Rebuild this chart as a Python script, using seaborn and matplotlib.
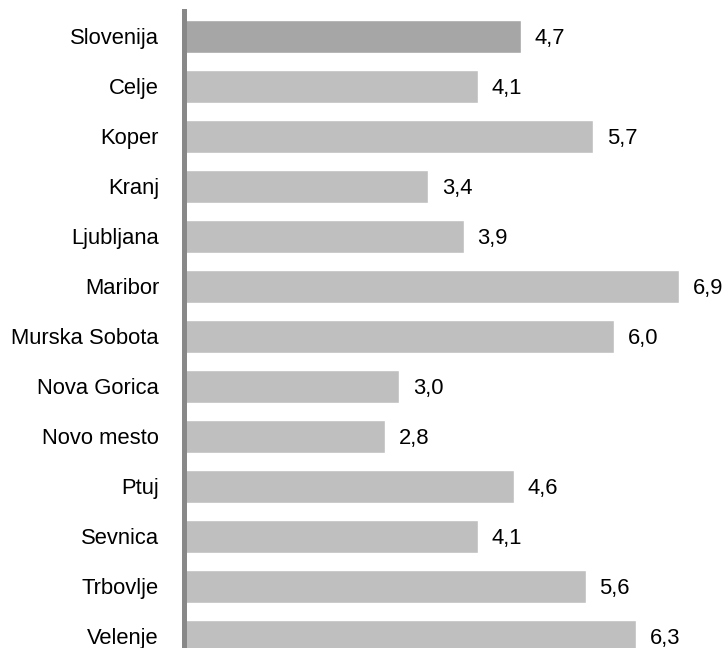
import matplotlib
matplotlib.use("Agg")
import matplotlib.pyplot as plt
import seaborn as sns

# podatki
kraji = ["Slovenija", "Celje", "Koper", "Kranj", "Ljubljana", "Maribor",
         "Murska Sobota", "Nova Gorica", "Novo mesto", "Ptuj", "Sevnica",
         "Trbovlje", "Velenje"]
vrednosti = [4.7, 4.1, 5.7, 3.4, 3.9, 6.9, 6.0, 3.0, 2.8, 4.6, 4.1, 5.6, 6.3]
barve = ["#a6a6a6"] + ["#bfbfbf"] * (len(kraji) - 1)

sns.set_style("white")
plt.rcParams["font.family"] = ["Liberation Sans", "DejaVu Sans"]

fig = plt.figure(figsize=(7.27, 6.48), dpi=100)
ax = fig.add_axes([184 / 727, 0, (727 - 184) / 727, 637 / 648])

sns.barplot(x=vrednosti, y=kraji, hue=kraji, palette=barve, legend=False,
            width=0.66, orient="h", ax=ax, saturation=1)

for i, v in enumerate(vrednosti):
    ax.annotate(f"{v:.1f}".replace(".", ","), xy=(v, i), xytext=(10, -2),
                textcoords="offset points", va="center", ha="left",
                fontsize=15.8, color="black")

ax.set_xlim(0, (727 - 184) / 71.7)
ax.set_ylim(12.24, -0.5)
ax.set_xlabel("")
ax.set_ylabel("")
ax.set_xticks([])
ax.tick_params(axis="y", length=0, pad=18, labelsize=15.8, labelcolor="black")

for s in ["top", "right", "bottom"]:
    ax.spines[s].set_visible(False)
ax.spines["left"].set_color("#888888")
ax.spines["left"].set_linewidth(3.6)

fig.savefig("out.png", dpi=100)
plt.close()
